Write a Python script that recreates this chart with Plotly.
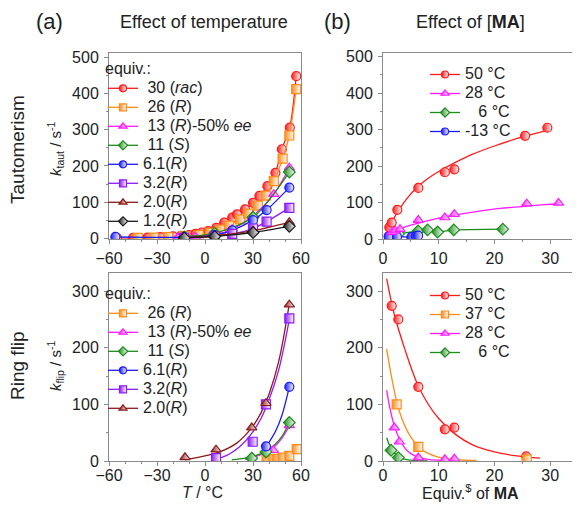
import plotly.graph_objects as go

# target canvas 580x505; the page body adds an 8px margin, so the figure is
# drawn 8px smaller and all layout pixel positions are shifted by that margin
PAGE_W, PAGE_H, BODY = 580, 505, 8
W, H = PAGE_W - BODY, PAGE_H - BODY

# ---------------- data ----------------
# (a) Tautomerism vs temperature
ta_T_30 = [-55, -45, -36, -28, -20, -15, -10, -6, -2, 2, 7, 12, 17, 20, 25, 30, 34, 39, 44, 48, 53, 57]
ta_k_30 = [1, 1, 2, 3, 5, 7, 9, 12, 16, 20, 29, 43, 57, 66, 80, 98, 117, 144, 181, 246, 306, 448]
ta_T_26 = [-42, -32, -23, -13, -4, 3, 10, 15, 22, 27, 33, 38, 43, 48.5, 52.7, 57]
ta_k_26 = [1, 2, 3, 5, 9, 15, 24, 35, 52, 68, 90, 118, 158, 220, 284, 412]
ta_T_13 = [-17, -6, 6, 17, 30, 43, 52.7]
ta_k_13 = [2, 4, 10, 25, 62, 122, 195]
ta_T_11 = [-13, 6, 30, 52.7]
ta_k_11 = [4, 14, 58, 183]
ta_T_61 = [-56, -13, 6, 17, 30, 38.5, 52.7]
ta_k_61 = [4, 3, 9, 22, 50, 78, 140]
ta_T_32 = [-13, 6, 17, 30, 38.5, 52.7]
ta_k_32 = [1, 5, 12, 27, 46, 84]
ta_T_20 = [-13, 6, 30, 52.7]
ta_k_20 = [2, 7, 21, 44]
ta_T_12 = [-13, 6, 30, 52.7]
ta_k_12 = [1, 5, 16, 33]

# Ring flip vs temperature (points)
rf_T_26 = [38.5, 42.3, 45.2, 48.5, 52.7, 57.3]
rf_k_26 = [2, 3, 4, 6, 9, 21]
rf_T_13 = [29.2, 42.7, 52.7]
rf_k_13 = [6.5, 19, 63]
rf_T_11 = [29.2, 38.1, 52.7]
rf_k_11 = [5, 16, 68]
rf_T_61 = [38.1, 52.7]
rf_k_61 = [26, 131]
rf_T_32 = [6.9, 29.8, 38.1, 52.7]
rf_k_32 = [5, 34, 100, 252]
rf_T_20 = [-12.5, 6.9, 29.2, 38.1, 52.7]
rf_k_20 = [6.5, 20, 59, 102, 276]
# Ring flip fitted curves
rf_fitT_26 = [36, 42, 46, 50, 54, 57.3]
rf_fitk_26 = [1, 2.5, 4, 7, 12, 21]
rf_fitT_13 = [25, 32, 38, 44, 48, 52.7]
rf_fitk_13 = [3, 8, 15, 27, 40, 62]
rf_fitT_11 = [16.7, 25, 32, 38, 44, 48, 52.7]
rf_fitk_11 = [2, 5, 10, 17, 30, 43, 68]
rf_fitT_61 = [36, 40, 44, 48, 52.7]
rf_fitk_61 = [18, 33, 52, 80, 131]
rf_fitT_32 = [6.9, 15, 22, 29, 35, 40, 46, 52.7]
rf_fitk_32 = [3, 12, 26, 48, 75, 108, 160, 250]
rf_fitT_20 = [-12.5, 0, 10, 20, 29, 35, 40, 46, 52.7]
rf_fitk_20 = [2, 9, 17, 32, 58, 85, 118, 175, 278]

# (b) Tautomerism vs equiv. of MA
tb_x_50 = [1.13, 1.56, 2.57, 6.34, 11.1, 12.8, 25.5, 29.5]
tb_k_50 = [32, 45, 80, 140, 183, 191, 283, 305]
tb_fitx_50 = [1, 2, 3, 4.5, 6, 8, 10, 13, 16, 20, 25, 29.5]
tb_fitk_50 = [30, 58, 83, 115, 140, 165, 185, 210, 232, 255, 280, 298]
tb_x_28 = [1.56, 2.15, 3.05, 6.34, 11.1, 12.8, 25.8, 31.5]
tb_k_28 = [18, 23, 27, 52, 59, 68, 97, 99]
tb_fitx_28 = [1, 2, 3, 5, 7, 10, 13, 17, 21, 25, 29, 31.5]
tb_fitk_28 = [17, 22, 28, 38, 46, 57, 66, 76, 84, 89, 94, 96]
tb_x_6 = [1.6, 2.8, 6.3, 8.0, 9.8, 12.7, 21.5]
tb_k_6 = [12, 14, 22, 25, 19, 25, 27]
tb_x_m13 = [1.0, 2.5, 5.1, 5.9, 6.3]
tb_k_m13 = [7, 6, 5, 8, 9]

# Ring flip vs equiv. of MA
rb_x_50 = [1.56, 2.75, 6.34, 11.1, 12.8, 25.7]
rb_k_50 = [274, 250, 131, 56, 59, 8]
rb_fitx_50 = [0.66, 2, 4, 6, 8, 10, 13, 16, 20, 24, 28.2]
rb_fitk_50 = [322, 260, 195, 140, 102, 75, 47, 29, 16, 9, 5]
rb_x_37 = [2.45, 6.34, 25.8]
rb_k_37 = [100, 25, 3]
rb_fitx_37 = [0.66, 1.5, 2.5, 3.5, 5, 6.5, 8, 10, 13, 16.8]
rb_fitk_37 = [198, 150, 103, 72, 42, 24, 14, 7, 2.5, 1]
rb_x_28 = [2.03, 2.93, 6.34, 11.1, 12.8]
rb_k_28 = [59, 34, 6, 3, 4]
rb_fitx_28 = [0.66, 1.2, 2, 3, 4, 5, 6.5, 8, 10, 12.8]
rb_fitk_28 = [125, 95, 63, 38, 22, 13, 6, 3, 1.5, 0.5]
rb_x_6 = [1.44, 2.75]
rb_k_6 = [19, 6]
rb_fitx_6 = [0.66, 1.2, 1.8, 2.5, 3.5, 5, 8]
rb_fitk_6 = [41, 27, 17, 10, 4, 1.5, 0.3]

# ---------------- styles ----------------
RED, ORANGE, MAGENTA, GREEN = "#ff1a1a", "#ff8c1a", "#ff1aff", "#1a8c1a"
BLUE, PURPLE, BROWN, BLACK = "#1a1aff", "#8c1aff", "#8c1a1a", "#1a1a1a"
FONT = "Arial, Liberation Sans, sans-serif"
TXT = "#222222"
AXC = "#8a8a8a"
NB = "\u00a0"

fig = go.Figure()


def mk(color, symbol, size=9):
    return dict(symbol=symbol, size=size, color=color,
                gradient=dict(type="horizontal", color="white"),
                line=dict(color=color, width=1.2))


def pts(x, y, color, symbol, xa, ya, mode="markers", shape="spline"):
    fig.add_trace(go.Scatter(x=x, y=y, mode=mode, marker=mk(color, symbol),
                             line=dict(color=color, width=1.3, shape=shape, smoothing=0.8),
                             xaxis=xa, yaxis=ya, showlegend=False, hoverinfo="skip"))


def fit(x, y, color, xa, ya):
    fig.add_trace(go.Scatter(x=x, y=y, mode="lines",
                             line=dict(color=color, width=1.3, shape="spline", smoothing=1.0),
                             xaxis=xa, yaxis=ya, showlegend=False, hoverinfo="skip"))


def big(t):
    return '<span style="font-size:16px">' + t + "</span>"


def leg(name, color, symbol, legend, xa, ya):
    fig.add_trace(go.Scatter(x=[None], y=[None], mode="lines+markers", name=big(name),
                             marker=mk(color, symbol, 7),
                             line=dict(color=color, width=1.3),
                             xaxis=xa, yaxis=ya, legend=legend, hoverinfo="skip"))


# top-left
ta = [
    (ta_T_30, ta_k_30, RED, "circle", NB + "30" + NB + "(<i>rac</i>)"),
    (ta_T_26, ta_k_26, ORANGE, "square", NB + "26" + NB + "(<i>R</i>)"),
    (ta_T_13, ta_k_13, MAGENTA, "triangle-up", NB + "13" + NB + "(<i>R</i>)-50%" + NB + "<i>ee</i>"),
    (ta_T_11, ta_k_11, GREEN, "diamond", NB + "11" + NB + "(<i>S</i>)"),
    (ta_T_61, ta_k_61, BLUE, "circle", "6.1(<i>R</i>)"),
    (ta_T_32, ta_k_32, PURPLE, "square", "3.2(<i>R</i>)"),
    (ta_T_20, ta_k_20, BROWN, "triangle-up", "2.0(<i>R</i>)"),
    (ta_T_12, ta_k_12, BLACK, "diamond", "1.2(<i>R</i>)"),
]
for x, y, c, s, n in ta:
    pts(x, y, c, s, "x", "y", mode="lines+markers")
for x, y, c, s, n in ta:
    leg(n, c, s, "legend", "x", "y")

# bottom-left
rf = [
    (rf_T_26, rf_k_26, rf_fitT_26, rf_fitk_26, ORANGE, "square", NB + "26" + NB + "(<i>R</i>)"),
    (rf_T_13, rf_k_13, rf_fitT_13, rf_fitk_13, MAGENTA, "triangle-up", NB + "13" + NB + "(<i>R</i>)-50%" + NB + "<i>ee</i>"),
    (rf_T_11, rf_k_11, rf_fitT_11, rf_fitk_11, GREEN, "diamond", NB + "11" + NB + "(<i>S</i>)"),
    (rf_T_61, rf_k_61, rf_fitT_61, rf_fitk_61, BLUE, "circle", "6.1(<i>R</i>)"),
    (rf_T_32, rf_k_32, rf_fitT_32, rf_fitk_32, PURPLE, "square", "3.2(<i>R</i>)"),
    (rf_T_20, rf_k_20, rf_fitT_20, rf_fitk_20, BROWN, "triangle-up", "2.0(<i>R</i>)"),
]
for x, y, fx, fy, c, s, n in rf:
    fit(fx, fy, c, "x2", "y2")
for x, y, fx, fy, c, s, n in rf:
    pts(x, y, c, s, "x2", "y2")
for x, y, fx, fy, c, s, n in rf:
    leg(n, c, s, "legend2", "x2", "y2")

# top-right
fit(tb_fitx_50, tb_fitk_50, RED, "x3", "y3")
fit(tb_fitx_28, tb_fitk_28, MAGENTA, "x3", "y3")
pts(tb_x_6, tb_k_6, GREEN, "diamond", "x3", "y3", mode="lines+markers", shape="linear")
pts(tb_x_m13, tb_k_m13, BLUE, "circle", "x3", "y3", mode="lines+markers", shape="linear")
pts(tb_x_50, tb_k_50, RED, "circle", "x3", "y3")
pts(tb_x_28, tb_k_28, MAGENTA, "triangle-up", "x3", "y3")
for n, c, s in [("50 °C", RED, "circle"), ("28 °C", MAGENTA, "triangle-up"),
                (NB + NB + NB + "6 °C", GREEN, "diamond"), ("-13 °C", BLUE, "circle")]:
    leg(n, c, s, "legend3", "x3", "y3")

# bottom-right
for fx, fy, c in [(rb_fitx_50, rb_fitk_50, RED), (rb_fitx_37, rb_fitk_37, ORANGE),
                  (rb_fitx_28, rb_fitk_28, MAGENTA), (rb_fitx_6, rb_fitk_6, GREEN)]:
    fit(fx, fy, c, "x4", "y4")
for x, y, c, s in [(rb_x_50, rb_k_50, RED, "circle"), (rb_x_37, rb_k_37, ORANGE, "square"),
                   (rb_x_28, rb_k_28, MAGENTA, "triangle-up"), (rb_x_6, rb_k_6, GREEN, "diamond")]:
    pts(x, y, c, s, "x4", "y4")
for n, c, s in [("50 °C", RED, "circle"), ("37 °C", ORANGE, "square"),
                ("28 °C", MAGENTA, "triangle-up"), (NB + NB + NB + "6 °C", GREEN, "diamond")]:
    leg(n, c, s, "legend4", "x4", "y4")


# ---------------- layout ----------------
def fx_(p):  # page pixel x -> paper fraction
    return (p - BODY) / W


def fy_(p):  # page pixel y -> paper fraction
    return 1 - (p - BODY) / H


XL, XR = [fx_(109), fx_(301)], [fx_(383), fx_(578)]
YT, YB = [fy_(239), fy_(53)], [fy_(461), fy_(273)]

tickfont = dict(family=FONT, size=16, color=TXT)


def xax(domain, anchor, rng, dtick, mdtick, standoff):
    return dict(domain=domain, anchor=anchor, range=rng, dtick=dtick, tick0=0,
                showline=True, linecolor=AXC, linewidth=1, mirror=True, automargin=False,
                ticks="outside", ticklen=4, tickcolor=AXC, showgrid=False, zeroline=False,
                tickfont=tickfont, ticklabelstandoff=standoff,
                minor=dict(dtick=mdtick, tick0=0, ticks="outside", ticklen=2, tickcolor=AXC))


def yax(domain, anchor, rng, dtick, mdtick):
    return dict(domain=domain, anchor=anchor, range=rng, dtick=dtick, tick0=0,
                showline=True, linecolor=AXC, linewidth=1, mirror=True, automargin=False,
                ticks="outside", ticklen=4, tickcolor=AXC, showgrid=False, zeroline=False,
                tickfont=tickfont, ticklabelstandoff=2,
                minor=dict(dtick=mdtick, tick0=0, ticks="outside", ticklen=2, tickcolor=AXC))


def mirror_ax(over, anchor, side, rng, dtick, mdtick):
    # opposite-side axis carrying only inward ticks (frame mirror ticks)
    return dict(overlaying=over, anchor=anchor, side=side, range=rng, dtick=dtick, tick0=0,
                showline=False, showgrid=False, zeroline=False, automargin=False,
                showticklabels=False, ticks="inside", ticklen=4, tickcolor=AXC,
                minor=dict(dtick=mdtick, tick0=0, ticks="inside", ticklen=2, tickcolor=AXC))


def legend_at(xp, yp, title=None):
    d = dict(x=fx_(xp), y=fy_(yp), xanchor="left", yanchor="top",
             bgcolor="rgba(0,0,0,0)", borderwidth=0, itemwidth=30,
             font=dict(family=FONT, size=12, color=TXT), tracegroupgap=0,
             itemclick=False, itemdoubleclick=False)
    if title:
        d["title"] = dict(text=title, font=dict(family=FONT, size=16, color=TXT))
    return d


ann = []


def txt(t, xp, yp, size, angle=0):
    ann.append(dict(text=t, x=fx_(xp), y=fy_(yp), xref="paper", yref="paper",
                    showarrow=False, textangle=angle, xanchor="center", yanchor="middle",
                    font=dict(family=FONT, size=size, color=TXT)))


txt("(a)", 49, 22, 22)
txt("Effect of temperature", 204, 22, 18)
txt("(b)", 337, 22, 22)
txt("Effect of [<b>MA</b>]", 470, 22, 18)
txt("Tautomerism", 17, 150, 19, -90)
txt("Ring flip", 17, 366, 19, -90)
txt("<i>k</i><sub>taut</sub>" + NB + "/" + NB + "s<sup>-1</sup>", 55, 148, 15, -90)
txt("<i>k</i><sub>flip</sub>" + NB + "/" + NB + "s<sup>-1</sup>", 55, 366, 15, -90)
txt("<i>T</i> / °C", 202, 492, 16)
txt("Equiv.<sup>$</sup> of <b>MA</b>", 470, 492, 16)

fig.update_layout(
    width=W, height=H, margin=dict(l=0, r=0, t=0, b=0, pad=0, autoexpand=False),
    paper_bgcolor="white", plot_bgcolor="white",
    font=dict(family=FONT, color=TXT),
    xaxis=xax(XL, "y", [-60, 60], 30, 10, 1),
    yaxis=yax(YT, "x", [-2, 512], 100, 50),
    xaxis2=xax(XL, "y2", [-60, 60], 30, 10, -4),
    yaxis2=yax(YB, "x2", [0, 332], 100, 50),
    xaxis3=xax(XR, "y3", [0, 35], 10, 5, 1),
    yaxis3=yax(YT, "x3", [0, 510], 100, 50),
    xaxis4=xax(XR, "y4", [0, 35], 10, 5, -4),
    yaxis4=yax(YB, "x4", [0, 332], 100, 50),
    xaxis5=mirror_ax("x", "y", "top", [-60, 60], 30, 10),
    yaxis5=mirror_ax("y", "x", "right", [-2, 512], 100, 50),
    xaxis6=mirror_ax("x2", "y2", "top", [-60, 60], 30, 10),
    yaxis6=mirror_ax("y2", "x2", "right", [0, 332], 100, 50),
    xaxis7=mirror_ax("x3", "y3", "top", [0, 35], 10, 5),
    yaxis7=mirror_ax("y3", "x3", "right", [0, 510], 100, 50),
    xaxis8=mirror_ax("x4", "y4", "top", [0, 35], 10, 5),
    yaxis8=mirror_ax("y4", "x4", "right", [0, 332], 100, 50),
    legend=legend_at(103, 53, "equiv.:"),
    legend2=legend_at(103, 278, "equiv.:"),
    legend3=legend_at(425, 60), legend4=legend_at(425, 281),
    annotations=ann,
    showlegend=True,
)

fig.write_html("out.html", config={"displayModeBar": False})
